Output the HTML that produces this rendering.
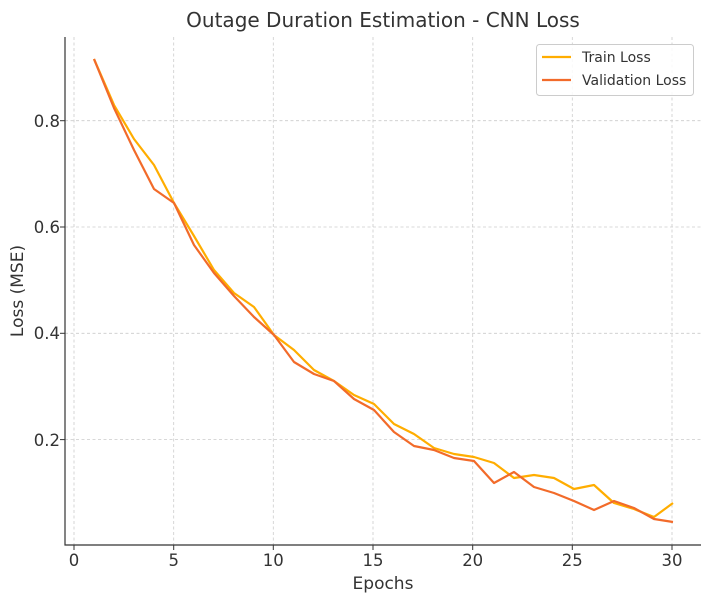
<!DOCTYPE html>
<html><head><style>body{margin:0;background:#fff}svg{display:block}</style></head><body>
<svg width="711" height="604" xmlns="http://www.w3.org/2000/svg" font-family="DejaVu Sans, Liberation Sans, sans-serif">
<rect width="711" height="604" fill="#fff"/>
<g stroke="#ccc" stroke-width="0.8" stroke-dasharray="3,2.5">
<line x1="74" y1="37" x2="74" y2="545"/><line x1="173.7" y1="37" x2="173.7" y2="545"/><line x1="273.3" y1="37" x2="273.3" y2="545"/><line x1="373" y1="37" x2="373" y2="545"/><line x1="472.7" y1="37" x2="472.7" y2="545"/><line x1="572.3" y1="37" x2="572.3" y2="545"/><line x1="672" y1="37" x2="672" y2="545"/>
<line x1="65" y1="120.7" x2="701" y2="120.7"/><line x1="65" y1="227" x2="701" y2="227"/><line x1="65" y1="333.3" x2="701" y2="333.3"/><line x1="65" y1="439.6" x2="701" y2="439.6"/>
</g>
<g fill="none" stroke-width="2.2" stroke-linejoin="round">
<polyline stroke="#FFAD00" points="94,59 114,105 134,139 154,165 174,203 194,236 214,270 234,293 254,307 274,335 294,350 314,370 334,381 354,395 374,404 394,424 414,434 434,448 454,454 474,457 494,463 514,478 534,475 554,478 574,489 594,485 614,503 634,509 654,517 673,503"/>
<polyline stroke="#F26B2A" points="94,59 114,108 134,150 154,189 174,203 194,245 214,273 234,296 254,317 274,335 294,362 314,374 334,381 354,399 374,410 394,432 414,446 434,450 454,458 474,461 494,483 514,472 534,487 554,493 574,501 594,510 614,501 634,508 654,519 673,522"/>
</g>
<g stroke="#333" stroke-width="1.2" fill="none">
<path d="M65,37 V545 H701"/>
</g>
<g stroke="#333" stroke-width="1">
<line x1="74" y1="545" x2="74" y2="550"/><line x1="173.7" y1="545" x2="173.7" y2="550"/><line x1="273.3" y1="545" x2="273.3" y2="550"/><line x1="373" y1="545" x2="373" y2="550"/><line x1="472.7" y1="545" x2="472.7" y2="550"/><line x1="572.3" y1="545" x2="572.3" y2="550"/><line x1="672" y1="545" x2="672" y2="550"/>
<line x1="60" y1="120.7" x2="65" y2="120.7"/><line x1="60" y1="227" x2="65" y2="227"/><line x1="60" y1="333.3" x2="65" y2="333.3"/><line x1="60" y1="439.6" x2="65" y2="439.6"/>
</g>
<g fill="#333" font-size="16.5" text-anchor="middle">
<text x="74" y="566">0</text><text x="173.7" y="566">5</text><text x="273.3" y="566">10</text><text x="373" y="566">15</text><text x="472.7" y="566">20</text><text x="572.3" y="566">25</text><text x="672" y="566">30</text>
</g>
<g fill="#333" font-size="16.5" text-anchor="end">
<text x="60" y="127">0.8</text><text x="60" y="233">0.6</text><text x="60" y="339">0.4</text><text x="60" y="446">0.2</text>
</g>
<text x="383" y="589" font-size="17" fill="#333" text-anchor="middle">Epochs</text>
<text x="23" y="291" font-size="17" fill="#333" text-anchor="middle" transform="rotate(-90 23 291)">Loss (MSE)</text>
<text x="383" y="27" font-size="20" fill="#333" text-anchor="middle">Outage Duration Estimation - CNN Loss</text>
<rect x="536.5" y="44.5" width="157" height="51" rx="3" fill="#fff" fill-opacity="0.85" stroke="#ccc"/>
<line x1="542" y1="57" x2="571" y2="57" stroke="#FFAD00" stroke-width="2.2"/>
<line x1="542" y1="80" x2="571" y2="80" stroke="#F26B2A" stroke-width="2.2"/>
<text x="582" y="62" font-size="14" fill="#333">Train Loss</text>
<text x="582" y="85" font-size="14" fill="#333">Validation Loss</text>
</svg>
</body></html>
